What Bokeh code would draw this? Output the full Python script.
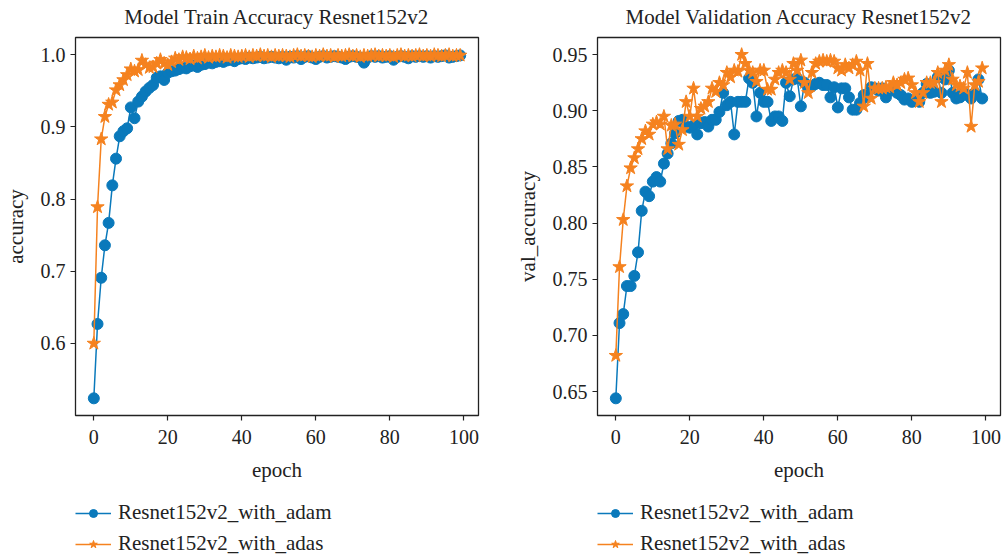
from bokeh.plotting import figure
from bokeh.layouts import row, column
from bokeh.models import Range1d, FixedTicker, Legend, LegendItem, NumeralTickFormatter, Label
from bokeh.embed import file_html
from bokeh.resources import INLINE

epochs = list(range(100))

train_adam = [0.524, 0.627, 0.691, 0.736, 0.767, 0.819, 0.856, 0.887, 0.894, 0.898,
              0.927, 0.912, 0.935, 0.942, 0.949, 0.954, 0.958, 0.968, 0.970, 0.965,
              0.975, 0.977, 0.978, 0.980, 0.982, 0.981, 0.984, 0.985, 0.983, 0.986,
              0.987, 0.989, 0.988, 0.990, 0.991, 0.990, 0.992, 0.993, 0.991, 0.994,
              0.995, 0.994, 0.996, 0.995, 0.996, 0.997, 0.995, 0.996, 0.997, 0.996,
              0.995, 0.997, 0.993, 0.997, 0.996, 0.998, 0.994, 0.997, 0.998, 0.996,
              0.994, 0.997, 0.998, 0.996, 0.997, 0.998, 0.997, 0.996, 0.994, 0.997,
              0.998, 0.997, 0.996, 0.989, 0.996, 0.998, 0.997, 0.998, 0.996, 0.997,
              0.998, 0.993, 0.997, 0.998, 0.997, 0.995, 0.998, 0.997, 0.998, 0.997,
              0.998, 0.996, 0.998, 0.997, 0.998, 0.999, 0.996, 0.997, 0.998, 0.999]

train_adas = [0.600, 0.789, 0.883, 0.914, 0.931, 0.934, 0.951, 0.958, 0.965, 0.972,
              0.980, 0.977, 0.979, 0.992, 0.986, 0.982, 0.983, 0.988, 0.993, 0.988,
              0.986, 0.990, 0.995, 0.993, 0.997, 0.996, 0.994, 0.998, 0.995, 0.997,
              0.999, 0.996, 0.998, 0.997, 0.999, 0.998, 0.996, 0.999, 0.998, 0.997,
              0.998, 0.999, 0.997, 0.999, 0.998, 1.000, 0.998, 0.999, 0.997, 0.999,
              0.998, 0.999, 0.998, 0.997, 0.999, 1.000, 0.998, 0.999, 0.998, 0.997,
              0.999, 0.998, 1.000, 0.998, 0.999, 0.997, 0.999, 0.998, 0.999, 1.000,
              0.998, 0.999, 0.997, 0.999, 0.998, 0.999, 1.000, 0.998, 0.999, 0.998,
              0.999, 0.997, 0.999, 1.000, 0.998, 0.999, 0.998, 0.999, 1.000, 0.998,
              0.999, 0.998, 1.000, 0.999, 0.998, 0.999, 1.000, 0.998, 0.999, 0.999]

val_adam = [0.644, 0.711, 0.719, 0.744, 0.744, 0.753, 0.774, 0.811, 0.828, 0.824,
            0.837, 0.841, 0.837, 0.853, 0.862, 0.871, 0.880, 0.891, 0.892, 0.886,
            0.885, 0.887, 0.879, 0.889, 0.890, 0.886, 0.892, 0.892, 0.899, 0.916,
            0.905, 0.908, 0.879, 0.908, 0.908, 0.908, 0.929, 0.925, 0.895, 0.916,
            0.908, 0.908, 0.891, 0.895, 0.895, 0.891, 0.925, 0.913, 0.928, 0.929,
            0.904, 0.925, 0.920, 0.922, 0.924, 0.925, 0.923, 0.923, 0.912, 0.921,
            0.903, 0.920, 0.920, 0.912, 0.901, 0.901, 0.907, 0.914, 0.912, 0.921,
            0.920, 0.918, 0.920, 0.912, 0.918, 0.920, 0.916, 0.914, 0.910, 0.911,
            0.908, 0.910, 0.908, 0.916, 0.924, 0.916, 0.917, 0.930, 0.916, 0.928,
            0.936, 0.916, 0.911, 0.912, 0.916, 0.914, 0.911, 0.916, 0.928, 0.911]

val_adas = [0.682, 0.761, 0.803, 0.833, 0.849, 0.858, 0.866, 0.875, 0.882, 0.879,
            0.888, 0.890, 0.888, 0.895, 0.866, 0.887, 0.888, 0.870, 0.883, 0.908,
            0.895, 0.920, 0.895, 0.902, 0.904, 0.908, 0.920, 0.917, 0.925, 0.923,
            0.934, 0.930, 0.936, 0.935, 0.950, 0.942, 0.936, 0.934, 0.926, 0.936,
            0.936, 0.919, 0.919, 0.928, 0.934, 0.936, 0.934, 0.928, 0.942, 0.936,
            0.945, 0.925, 0.916, 0.934, 0.942, 0.944, 0.945, 0.944, 0.945, 0.944,
            0.938, 0.936, 0.941, 0.938, 0.941, 0.944, 0.936, 0.904, 0.942, 0.911,
            0.920, 0.920, 0.920, 0.921, 0.921, 0.925, 0.923, 0.925, 0.928, 0.929,
            0.923, 0.916, 0.908, 0.916, 0.925, 0.925, 0.925, 0.934, 0.908, 0.936,
            0.941, 0.928, 0.923, 0.922, 0.920, 0.934, 0.886, 0.923, 0.926, 0.938]

x_ticks = [0, 20, 40, 60, 80, 100]
train_ticks = [0.6, 0.7, 0.8, 0.9, 1.0]
val_ticks = [0.65, 0.70, 0.75, 0.80, 0.85, 0.90, 0.95]
series_names = ["Resnet152v2_with_adam", "Resnet152v2_with_adas"]
titles = ["Model Train Accuracy Resnet152v2", "Model Validation Accuracy Resnet152v2"]
y_labels = ["accuracy", "val_accuracy"]

BLUE = "#0a79bb"
ORANGE = "#f5821f"
FONT = "Liberation Serif"
TXT = "#222222"
X_RANGE = (-4.95, 103.95)


def draw_series(p, ya, yb):
    l1 = p.line(epochs, ya, line_color=BLUE, line_width=1.5)
    s1 = p.scatter(epochs, ya, marker="circle", size=11, fill_color=BLUE, line_color=BLUE)
    l2 = p.line(epochs, yb, line_color=ORANGE, line_width=1.5)
    s2 = p.scatter(epochs, yb, marker="star", size=14, fill_color=ORANGE, line_color=ORANGE)
    return l1, s1, l2, s2


def make_title(text):
    t = figure(width=502, height=35, output_backend="svg", toolbar_location=None,
               x_range=Range1d(*X_RANGE), y_range=Range1d(0, 1),
               x_axis_location=None, y_axis_location=None, min_border=0)
    t.outline_line_color = None
    t.grid.visible = False
    t.add_layout(Label(x=(X_RANGE[0] + X_RANGE[1]) / 2, y=19, y_units="screen", text=text,
                       text_font=FONT, text_font_size="21px", text_color=TXT,
                       text_align="center", text_baseline="middle"))
    return t


def make_panel(ylabel, ya, yb, yrange, yticks, yfmt, bl, br):
    p = figure(width=502, height=455, output_backend="svg", toolbar_location=None,
               x_range=Range1d(*X_RANGE), y_range=Range1d(*yrange),
               min_border_left=bl, min_border_right=br, min_border_top=2, min_border_bottom=75)
    p.outline_line_color = TXT
    p.outline_line_width = 1.3
    p.outline_line_alpha = 1.0
    p.grid.visible = False
    p.background_fill_color = "white"
    p.border_fill_color = "white"

    draw_series(p, ya, yb)

    for ax in (p.xaxis[0], p.yaxis[0]):
        ax.axis_line_color = None
        ax.major_tick_line_color = TXT
        ax.major_tick_line_width = 1.2
        ax.major_tick_out = 5
        ax.major_tick_in = 0
        ax.minor_tick_line_color = None
        ax.major_label_text_font = FONT
        ax.major_label_text_font_size = "20px"
        ax.major_label_text_color = TXT
        ax.axis_label_text_font = FONT
        ax.axis_label_text_font_size = "21px"
        ax.axis_label_text_font_style = "normal"
        ax.axis_label_text_color = TXT
    p.xaxis.ticker = FixedTicker(ticks=x_ticks)
    p.yaxis.ticker = FixedTicker(ticks=yticks)
    p.yaxis.formatter = NumeralTickFormatter(format=yfmt)
    p.xaxis.axis_label = "epoch"
    p.yaxis.axis_label = ylabel
    p.xaxis.major_label_standoff = 9
    p.yaxis.major_label_standoff = 5
    p.xaxis.axis_label_standoff = 11
    p.yaxis.axis_label_standoff = 10
    return p


def make_legend(ya, yb):
    # legend strip below each chart; the series lie outside its y-range,
    # so only the legend glyphs show
    lg = figure(width=502, height=66, output_backend="svg", toolbar_location=None,
                x_range=Range1d(*X_RANGE), y_range=Range1d(-10, -9),
                x_axis_location=None, y_axis_location=None, min_border=0)
    lg.outline_line_color = None
    lg.grid.visible = False
    l1, s1, l2, s2 = draw_series(lg, ya, yb)
    legend = Legend(items=[LegendItem(label=series_names[0], renderers=[l1, s1]),
                           LegendItem(label=series_names[1], renderers=[l2, s2])],
                    location=(0, 0), orientation="vertical")
    legend.label_text_font = FONT
    legend.label_text_font_size = "21px"
    legend.label_text_color = TXT
    legend.glyph_width = 36
    legend.glyph_height = 20
    legend.label_height = 20
    legend.label_standoff = 7
    legend.spacing = 6
    legend.padding = 0
    legend.margin = 0
    legend.border_line_color = None
    legend.background_fill_alpha = 0
    lg.add_layout(legend, "center")
    return lg


p1 = make_panel(y_labels[0], train_adam, train_adas, (0.5002, 1.0238), train_ticks, "0.0", 74, 24)
p2 = make_panel(y_labels[1], val_adam, val_adas, (0.6287, 0.9653), val_ticks, "0.00", 95, 4)

p = row(column(make_title(titles[0]), p1, make_legend(train_adam, train_adas)),
        column(make_title(titles[1]), p2, make_legend(val_adam, val_adas)))
open("out.html", "w").write(file_html(p, INLINE))
